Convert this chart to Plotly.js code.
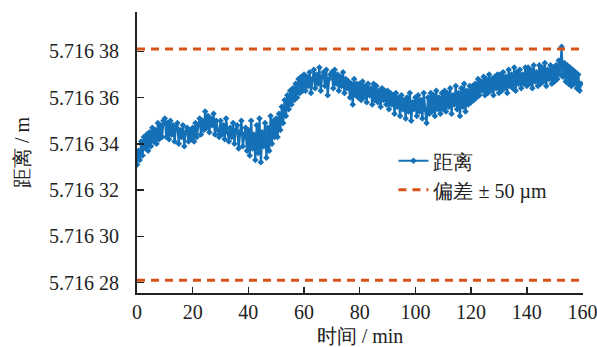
<!DOCTYPE html>
<html>
<head>
<meta charset="utf-8">
<script src="https://cdn.plot.ly/plotly-3.0.1.min.js"></script>
<style>html,body{margin:0;padding:0;background:#fff;}#chart{width:597px;height:347px;}</style>
</head>
<body>
<div id="chart"></div>
<script>
// Distance readings: offsets in micrometres above the base value 5.7163 m, every 0.5 min
const baseM = 5.7163;
const stepMin = 0.5;
const offsetUm = [
  31, 37, 33, 41, 35, 43, 38, 44, 37, 45, 39, 47, 41, 46, 40, 49, 42, 48, 43, 50,
  51, 43, 49, 42, 50, 44, 48, 41, 47, 49, 40, 46, 43, 48, 39, 45, 47, 41, 46, 42,
  47, 41, 49, 43, 48, 51, 44, 50, 46, 54, 47, 52, 45, 51, 48, 53, 44, 50, 46, 43,
  50, 44, 48, 42, 51, 45, 41, 47, 43, 49, 40, 46, 48, 38, 45, 50, 39, 44, 47, 37,
  46, 35, 50, 38, 44, 33, 48, 36, 51, 32, 45, 39, 49, 34, 47, 37, 52, 40, 50, 43,
  51, 43, 53, 46, 56, 49, 59, 52, 61, 55, 63, 57, 64, 59, 66, 60, 68, 62, 69, 63,
  70, 63, 69, 65, 71, 62, 68, 72, 64, 70, 66, 73, 63, 69, 71, 65, 72, 61, 68, 70,
  71, 64, 72, 66, 70, 63, 69, 65, 71, 62, 68, 64, 67, 60, 66, 57, 68, 61, 66, 60,
  66, 59, 67, 60, 65, 58, 66, 61, 64, 57, 66, 59, 65, 58, 63, 56, 64, 59, 63, 57,
  63, 55, 62, 57, 61, 53, 62, 56, 60, 52, 61, 55, 59, 51, 60, 54, 62, 50, 58, 55,
  60, 52, 61, 54, 59, 51, 62, 55, 49, 60, 53, 62, 54, 61, 52, 63, 55, 60, 53, 62,
  55, 63, 54, 62, 56, 64, 53, 61, 57, 65, 55, 62, 52, 64, 56, 66, 54, 63, 57, 65,
  58, 65, 59, 66, 60, 68, 61, 67, 63, 69, 61, 68, 62, 70, 63, 68, 61, 69, 64, 70,
  62, 70, 63, 71, 64, 69, 62, 72, 65, 70, 64, 73, 63, 71, 66, 72, 64, 70, 66, 73,
  65, 73, 66, 72, 64, 74, 67, 71, 65, 74, 66, 73, 67, 75, 65, 72, 68, 74, 66, 73,
  67, 74, 68, 76, 70, 82, 69, 75, 67, 74, 66, 73, 65, 72, 66, 71, 64, 70, 63, 66
];
// Tolerance band: mean ± 50 µm
const boundUpper = 5.716381;
const boundLower = 5.716281;
const boundX = [0, 160];
// Axis ticks
const xTicks = [0, 20, 40, 60, 80, 100, 120, 140, 160];
const yTickVals = [5.71628, 5.7163, 5.71632, 5.71634, 5.71636, 5.71638];
const yTickText = ['5.716 28', '5.716 30', '5.716 32', '5.716 34', '5.716 36', '5.716 38'];
const seriesNames = ['距离', '偏差 ± 50 µm'];

const timeMin = offsetUm.map((_, i) => i * stepMin);
const distM = offsetUm.map(v => baseM + v * 1e-6);

const FONT = 'Liberation Serif';
const blue = '#1470b7';
const red = '#d95319';
const ink = '#222';

const traces = [
  {
    x: timeMin, y: distM, mode: 'lines+markers', name: seriesNames[0],
    line: {color: blue, width: 2.2},
    marker: {symbol: 'diamond', size: 5, color: blue}
  },
  {
    x: boundX, y: [boundUpper, boundUpper], mode: 'lines', name: seriesNames[1],
    line: {color: red, width: 3, dash: '8px,6px'}
  },
  {
    x: boundX, y: [boundLower, boundLower], mode: 'lines', showlegend: false,
    line: {color: red, width: 3, dash: '8px,6px'}
  }
];

const layout = {
  width: 597, height: 347,
  margin: {l: 137, r: 14, t: 12, b: 54},
  paper_bgcolor: '#fff', plot_bgcolor: '#fff',
  font: {family: FONT, size: 20, color: ink},
  showlegend: true,
  legend: {
    x: 0.575, y: 0.54, xanchor: 'left', yanchor: 'top',
    bgcolor: 'rgba(255,255,255,0)', borderwidth: 0,
    font: {family: FONT, size: 20, color: ink},
    tracegroupgap: 0
  },
  xaxis: {
    range: [0, 160.2], tickvals: xTicks, ticktext: xTicks.map(String),
    showgrid: false, zeroline: false,
    showline: true, linecolor: ink, linewidth: 2,
    ticks: 'inside', ticklen: 6, tickwidth: 1.5, tickcolor: ink,
    ticklabelstandoff: 0, ticklabeloverflow: 'allow',
    tickfont: {family: FONT, size: 20, color: ink},
    title: {text: '时间 / min', font: {family: FONT, size: 20, color: ink}, standoff: 10}
  },
  yaxis: {
    range: [5.7162755, 5.716397], tickvals: yTickVals, ticktext: yTickText,
    showgrid: false, zeroline: false,
    showline: true, linecolor: ink, linewidth: 2,
    ticks: 'inside', ticklen: 7, tickwidth: 1.5, tickcolor: ink,
    ticklabelstandoff: 12, ticklabeloverflow: 'allow',
    tickfont: {family: FONT, size: 20, color: ink},
    title: {text: '距离 / m', font: {family: FONT, size: 20, color: ink}, standoff: 14}
  }
};

Plotly.newPlot('chart', traces, layout, {displayModeBar: false, staticPlot: true});
</script>
</body>
</html>
